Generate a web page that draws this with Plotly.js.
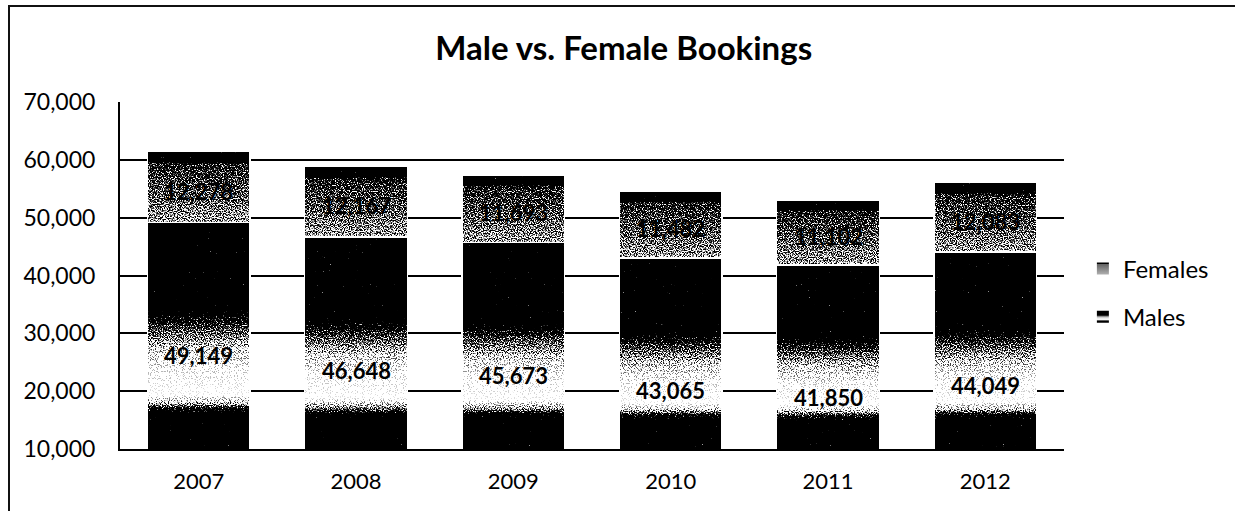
<!DOCTYPE html>
<html>
<head>
<meta charset="utf-8">
<script src="https://cdn.plot.ly/plotly-3.0.1.min.js"></script>
<style>
  html, body { margin: 0; padding: 0; background: #fff; }
  #wrap { position: relative; width: 1235px; height: 511px; overflow: hidden; }
  #chart { position: absolute; left: 0; top: 0; width: 1235px; height: 511px; }
  #frame { position: absolute; left: 8px; top: 5px; width: 1300px; height: 504px;
           border-left: 2px solid #111; border-top: 2px solid #111; pointer-events: none; }
</style>
</head>
<body>
<div id="wrap">
  <div id="chart"></div>
  <div id="frame"></div>
</div>
<script>
// ---- data ----
const years = ['2007', '2008', '2009', '2010', '2011', '2012'];
const males = [49149, 46648, 45673, 43065, 41850, 44049];
const females = [12278, 12167, 11693, 11482, 11102, 12083];
const yTickVals = [10000, 20000, 30000, 40000, 50000, 60000, 70000];
const chartTitle = 'Male vs. Female Bookings';

const fmt = v => v.toLocaleString('en-US');
const FONT = 'Lato, "Open Sans", sans-serif';

const traces = [
  { type: 'bar', name: 'Males', x: years, y: males, legendgroup: 'm', legendrank: 2,
    marker: { color: '#111', line: { width: 1.5, color: '#fff' } }, hoverinfo: 'x+y' },
  { type: 'bar', name: 'Females', x: years, y: females, legendgroup: 'f', legendrank: 1,
    marker: { color: '#888', line: { width: 1.5, color: '#fff' } }, hoverinfo: 'x+y' }
];

const annotations = [];
years.forEach((yr, i) => {
  annotations.push({ x: i, y: males[i], xref: 'x', yref: 'y', yshift: -133,
    text: '<b>' + fmt(males[i]) + '</b>', showarrow: false,
    font: { family: FONT, size: 22, color: '#000', weight: 'bold' } });
  annotations.push({ x: i, y: males[i] + females[i] / 2, xref: 'x', yref: 'y', yshift: -4,
    text: '<b>' + fmt(females[i]) + '</b>', showarrow: false,
    font: { family: FONT, size: 22, color: '#000', weight: 'bold' } });
});

const layout = {
  width: 1235, height: 511,
  margin: { l: 120, r: 171, t: 102, b: 62, pad: 0 },
  paper_bgcolor: '#fff', plot_bgcolor: '#fff',
  barmode: 'stack', bargap: 0.346,
  font: { family: FONT, color: '#000' },
  title: { text: '<b>' + chartTitle + '</b>', x: 0.505, xref: 'container', xanchor: 'center',
           y: 0.906, yref: 'container', yanchor: 'middle',
           font: { family: FONT, size: 33, color: '#000', weight: 'bold' } },
  xaxis: { type: 'category', range: [-0.5, years.length - 0.5], autorange: false,
           showgrid: false, showline: true, linecolor: '#000', linewidth: 2,
           ticks: '', ticklabelstandoff: 12, tickfont: { family: FONT, size: 22, color: '#000' } },
  yaxis: { range: [10000, 70000], autorange: false, tickvals: yTickVals, ticktext: yTickVals.map(fmt),
           showgrid: true, gridcolor: '#000', gridwidth: 2, zeroline: false,
           showline: true, linecolor: '#000', linewidth: 2, ticks: '', ticklabelstandoff: 18,
           tickfont: { family: FONT, size: 23, color: '#000' } },
  legend: { x: 1.02, xanchor: 'left', y: 0.45, yanchor: 'middle', traceorder: 'grouped',
            tracegroupgap: 14, font: { family: FONT, size: 24, color: '#000' },
            bgcolor: 'rgba(0,0,0,0)', itemwidth: 30 },
  annotations: annotations,
  showlegend: true
};

const NS = 'http://www.w3.org/2000/svg';
const STOPS = {
  Males: [[0, '#000'], [0.38, '#000'], [0.46, '#777'], [0.55, '#c8c8c8'], [0.65, '#ececec'],
          [0.76, '#f8f8f8'], [0.8, '#bbb'], [0.83, '#333'], [0.85, '#000'], [1, '#000']],
  Females: [[0, '#000'], [0.14, '#000'], [0.17, '#666'], [0.6, '#8c8c8c'], [1, '#b0b0b0']]
};

function makeGradient(defs, id, stops, units, y1, y2) {
  const g = document.createElementNS(NS, 'linearGradient');
  g.setAttribute('id', id);
  g.setAttribute('gradientUnits', units);
  g.setAttribute('x1', '0'); g.setAttribute('x2', '0');
  g.setAttribute('y1', String(y1)); g.setAttribute('y2', String(y2));
  stops.forEach(([o, c]) => {
    const s = document.createElementNS(NS, 'stop');
    s.setAttribute('offset', o); s.setAttribute('stop-color', c);
    g.appendChild(s);
  });
  defs.appendChild(g);
}

function addEffects(gd) {
  const svg = document.querySelector('#chart .main-svg');
  if (!svg) return;
  let defs = svg.querySelector('defs#customdefs');
  if (defs) defs.remove();
  defs = document.createElementNS(NS, 'defs');
  defs.setAttribute('id', 'customdefs');
  svg.insertBefore(defs, svg.firstChild);

  // halftone-like dither filter
  const f = document.createElementNS(NS, 'filter');
  f.setAttribute('id', 'dither');
  f.setAttribute('x', '0'); f.setAttribute('y', '0');
  f.setAttribute('width', '1'); f.setAttribute('height', '1');
  f.setAttribute('color-interpolation-filters', 'sRGB');
  f.innerHTML =
    '<feTurbulence type="fractalNoise" baseFrequency="0.85" numOctaves="1" seed="7" result="noise"/>' +
    '<feColorMatrix in="noise" type="matrix" values="2 0 0 0 -0.25  2 0 0 0 -0.25  2 0 0 0 -0.25  0 0 0 0 1" result="gray"/>' +
    '<feComposite in="SourceGraphic" in2="gray" operator="arithmetic" k1="0" k2="4" k3="-4" k4="1" result="d"/>' +
    '<feColorMatrix in="d" type="matrix" values="1 0 0 0 0  0 1 0 0 0  0 0 1 0 0  0 0 0 0 1" result="opaque"/>' +
    '<feComposite in="opaque" in2="SourceGraphic" operator="in"/>';
  defs.appendChild(f);

  const plotH = gd._fullLayout._size.h;
  const names = ['Males', 'Females'];
  document.querySelectorAll('#chart .barlayer .trace').forEach((t, ti) => {
    t.querySelectorAll('.point path').forEach((p, pi) => {
      const bb = p.getBBox();
      const top = Math.max(bb.y, 0);
      const bot = Math.min(bb.y + bb.height, plotH);
      const id = 'g_' + ti + '_' + pi;
      makeGradient(defs, id, STOPS[names[ti]], 'userSpaceOnUse', top, bot);
      p.style.fill = 'url(#' + id + ')';
      p.setAttribute('filter', 'url(#dither)');
    });
  });
  makeGradient(defs, 'legMales', STOPS.Males, 'objectBoundingBox', 0, 1);
  makeGradient(defs, 'legFemales', STOPS.Females, 'objectBoundingBox', 0, 1);
  document.querySelectorAll('#chart .legend .traces').forEach(t => {
    const name = t.querySelector('.legendtext').textContent;
    t.querySelectorAll('.legendpoints path').forEach(p => {
      p.style.fill = 'url(#leg' + name + ')';
      p.style.stroke = 'none';
    });
  });
}

Plotly.newPlot('chart', traces, layout, { displayModeBar: false, staticPlot: true }).then(gd => {
  addEffects(gd);
});
</script>
</body>
</html>
